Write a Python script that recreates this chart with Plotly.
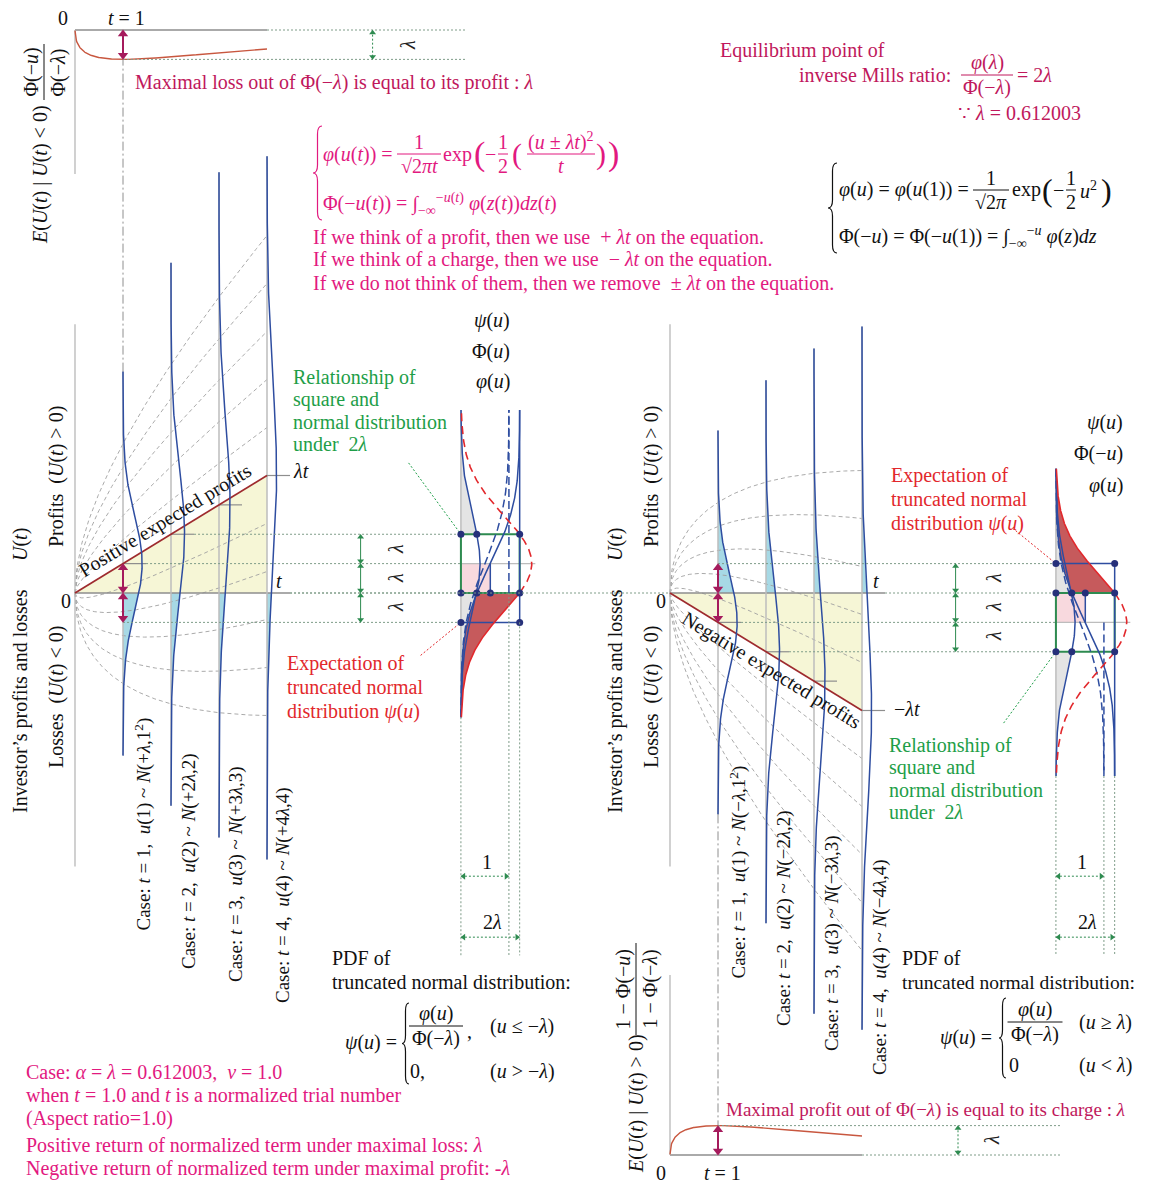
import math
import numpy as np
import plotly.graph_objects as go

# ============================ data ============================
LAM = 0.612003                      # equilibrium point: phi(lam)/Phi(-lam) = 2*lam
CASE_T = [1, 2, 3, 4]               # normalized trial numbers shown as distributions
BAND_K = [-2.5, -2.0, -1.5, -1.0, -0.5, 0.5, 1.0, 1.5, 2.0, 2.5]   # drift +/- k*sqrt(t) guide curves
CASE_TEXT_POS = [
    "Case: <i>t</i> = 1,  <i>u</i>(1) ~ <i>N</i>(+<i>λ</i>,1<sup>2</sup>)",
    "Case: <i>t</i> = 2,  <i>u</i>(2) ~ <i>N</i>(+2<i>λ</i>,2)",
    "Case: <i>t</i> = 3,  <i>u</i>(3) ~ <i>N</i>(+3<i>λ</i>,3)",
    "Case: <i>t</i> = 4,  <i>u</i>(4) ~ <i>N</i>(+4<i>λ</i>,4)",
]
CASE_TEXT_NEG = [
    "Case: <i>t</i> = 1,  <i>u</i>(1) ~ <i>N</i>(−<i>λ</i>,1<sup>2</sup>)",
    "Case: <i>t</i> = 2,  <i>u</i>(2) ~ <i>N</i>(−2<i>λ</i>,2)",
    "Case: <i>t</i> = 3,  <i>u</i>(3) ~ <i>N</i>(−3<i>λ</i>,3)",
    "Case: <i>t</i> = 4,  <i>u</i>(4) ~ <i>N</i>(−4<i>λ</i>,4)",
]
MINI_LABELS_POS = ["<i>ψ</i>(<i>u</i>)", "Φ(<i>u</i>)", "<i>φ</i>(<i>u</i>)"]
MINI_LABELS_NEG = ["<i>ψ</i>(<i>u</i>)", "Φ(−<i>u</i>)", "<i>φ</i>(<i>u</i>)"]

# ============================ layout constants ============================
W, H = 1150, 1183                  # window size (reference pixel frame)
OFF = 8                            # page body margin: figure starts at (8, 8)
FW, FH = W - OFF, H - OFF          # figure size
PX = 48.0                          # pixels per unit (aspect ratio 1)
ORIGINS = {"L": (75, 593), "R": (670, 593), "T": (75, 30), "B": (670, 1155)}
AXES = {"L": ("x", "y"), "R": ("x2", "y2"), "T": ("x3", "y3"), "B": ("x4", "y4")}
T_MINI = 8.04          # baseline of the small psi/Phi/phi panel (in t units)
PDF_K = 1.0
U_CLIP = 9.1
AX_END = 4.48
TICK = 0.48
MINI_U = 3.2
DIM_T = 5.95
DIM_ONE_U, DIM_TWO_U, DOT_END_U = -5.9, -7.17, -7.55
PANEL_GAP = 11.72

SERIF = "Liberation Serif, Times New Roman, serif"
BLUE = "#2E4DA0"
NAVY = "#26307A"
AXGRAY = "#8E8E8E"
BASEGRAY = "#BDBDBD"
DASHGRAY = "#A0A0A0"
DOTTED = "#7E9C88"
YELLOW = "#F6F6D6"
LIGHTBLUE = "#A7D9E5"
LIGHTGRAY = "#E4E4E4"
PINK = "#F8D9DE"
REDFILL = "#C65A5C"
RED = "#E2282C"
BROWN = "#9E2B2E"
GREEN = "#2E8B50"
GREEN_TXT = "#1E9E48"
CRIMSON = "#A51B5C"
CRIMSON_TXT = "#C0185C"
MAGENTA = "#E2197F"
CURVE = "#C8573F"
INK = "#111111"
NONE = "rgba(0,0,0,0)"
FS = 20                            # main text size

SQ2PI = math.sqrt(2 * math.pi)
_erf = np.vectorize(math.erf)


def npdf(x, mu=0.0, sd=1.0):
    x = np.asarray(x, float)
    return np.exp(-0.5 * ((x - mu) / sd) ** 2) / (sd * SQ2PI)


def ncdf(x):
    return 0.5 * (1 + _erf(np.asarray(x, float) / math.sqrt(2)))


PHI_NL = float(ncdf(-LAM))      # Phi(-lambda)
PHI_L = float(npdf(LAM))        # phi(lambda)

traces, ann, shapes = [], [], []


def fx(px):
    return (px - OFF) / FW


def fy(py):
    return 1 - (py - OFF) / FH


def L(key, x, y, color=NONE, width=1.0, dash=None, fill=None):
    xa, ya = AXES[key]
    kw = {}
    if fill is not None:
        kw = dict(fill="toself", fillcolor=fill)
    traces.append(go.Scatter(x=list(np.asarray(x, float)), y=list(np.asarray(y, float)),
                             xaxis=xa, yaxis=ya, mode="lines",
                             line=dict(color=color, width=width, dash=dash),
                             hoverinfo="skip", showlegend=False, **kw))


def M(key, x, y, color, size, symbol="circle"):
    xa, ya = AXES[key]
    traces.append(go.Scatter(x=list(x), y=list(y), xaxis=xa, yaxis=ya, mode="markers",
                             marker=dict(color=color, size=size, symbol=symbol, line=dict(width=0)),
                             hoverinfo="skip", showlegend=False))


def varrow(key, x, a, b, color, width=2.0, size=9, dash=None):
    lo, hi = min(a, b), max(a, b)
    d = size * 0.45 / PX
    L(key, [x, x], [lo + d, hi - d], color, width, dash)
    M(key, [x], [hi - d], color, size, "triangle-up")
    M(key, [x], [lo + d], color, size, "triangle-down")


def harrow(key, y, a, b, color, width=1.0, size=6, dash=None):
    d = size * 0.45 / PX
    L(key, [a, b], [y, y], color, width, dash)
    M(key, [a + d], [y], color, size, "triangle-left")
    M(key, [b - d], [y], color, size, "triangle-right")


def txt(px, py, text, size=FS, color=INK, xanchor="left", yanchor="middle", angle=0):
    ann.append(dict(x=fx(px), y=fy(py), xref="paper", yref="paper", text=text,
                    showarrow=False, xanchor=xanchor, yanchor=yanchor, textangle=angle,
                    borderpad=0, font=dict(size=size, color=color, family=SERIF)))


def pline(x0, y0, x1, y1, color, width=1.0):
    shapes.append(dict(type="line", xref="paper", yref="paper", x0=fx(x0), y0=fy(y0),
                       x1=fx(x1), y1=fy(y1), line=dict(color=color, width=width)))


def brace(x0, yt, yb, color, w=9, width=1.2):
    ym, xm = (yt + yb) / 2, x0 + w / 2
    d = min(8, (yb - yt) / 6)
    P = lambda X, Y: f"{fx(X):.5f},{fy(Y):.5f}"
    path = (f"M{P(x0 + w, yt)} Q{P(xm, yt)} {P(xm, yt + d)} L{P(xm, ym - d)} "
            f"Q{P(xm, ym)} {P(x0, ym)} Q{P(xm, ym)} {P(xm, ym + d)} "
            f"L{P(xm, yb - d)} Q{P(xm, yb)} {P(x0 + w, yb)}")
    shapes.append(dict(type="path", xref="paper", yref="paper", path=path,
                       line=dict(color=color, width=width)))


def frac(cx, cy, num, den, w, color, size=FS):
    txt(cx, cy - 0.62 * size, num, size, color, "center", "middle")
    txt(cx, cy + 0.62 * size, den, size, color, "center", "middle")
    pline(cx - w / 2, cy, cx + w / 2, cy, color, 1)


def rfrac(cx, cy, num, den, h, color, size=FS):
    txt(cx - 1, cy, num, size, color, "right", "middle", -90)
    txt(cx + 1, cy, den, size, color, "left", "middle", -90)
    pline(cx, cy - h / 2, cx, cy + h / 2, color, 1)


# ============================ main panels ============================
def draw_main(key, s, dash_from):
    tt = np.linspace(0, 4, 241)
    # expected-profit triangle
    L(key, [0, 4, 4, 0], [0, s * 4 * LAM, 0, 0], fill=YELLOW)
    # tail areas of each case distribution beyond zero
    for t in CASE_T:
        mu, sd = s * LAM * t, math.sqrt(t)
        lo, hi = max(mu - 4 * sd, -U_CLIP), min(mu + 4 * sd, U_CLIP)
        tail = np.linspace(lo, 0, 160) if s > 0 else np.linspace(0, hi, 160)
        xs = t + PDF_K * npdf(tail, mu, sd)
        L(key, np.r_[xs, t, t], np.r_[tail, tail[-1], tail[0]], fill=LIGHTBLUE)
    # dashed drift +/- k sqrt(t) curves
    for k in BAND_K:
        L(key, tt, s * (LAM * tt + k * np.sqrt(tt)), DASHGRAY, 0.9, "4px,3px")
    # axes
    L(key, [0, AX_END], [0, 0], AXGRAY, 1.4)
    L(key, [0, 0], [-5.7, 5.6], BASEGRAY, 1.4)
    for t in CASE_T:
        mu, sd = s * LAM * t, math.sqrt(t)
        lo, hi = max(mu - 4 * sd, -U_CLIP), min(mu + 4 * sd, U_CLIP)
        L(key, [t, t], [lo, hi], BASEGRAY, 1.5)
        L(key, [t, t + TICK], [mu, mu], AXGRAY, 1.2)
    L(key, [0, 4], [0, s * 4 * LAM], BROWN, 1.7)
    for t in CASE_T:
        mu, sd = s * LAM * t, math.sqrt(t)
        lo, hi = max(mu - 4 * sd, -U_CLIP), min(mu + 4 * sd, U_CLIP)
        u = np.linspace(lo, hi, 400)
        L(key, t + PDF_K * npdf(u, mu, sd), u, BLUE, 1.5)
    # dotted guide levels
    for t in (1, 2):
        L(key, [t + TICK, T_MINI], [s * LAM * t] * 2, DOTTED, 1, "2px,2px")
    L(key, [1, T_MINI], [-s * LAM] * 2, DOTTED, 1, "2px,2px")
    L(key, [AX_END, T_MINI], [0, 0], DOTTED, 1, "2px,2px")
    # connector to the small expectation panel
    L(key, [1, 1], [s * (LAM + 4), s * (PANEL_GAP - LAM)], AXGRAY, 1, "9px,3px,2px,3px")
    # crimson arrows at t = 1
    varrow(key, 1, 0, s * LAM, CRIMSON, 2, 9)
    varrow(key, 1, 0, -s * LAM, CRIMSON, 2, 9)
    # lambda dimension ladder
    lv = sorted([-s * LAM, 0, s * LAM, s * 2 * LAM])
    for a, b in zip(lv[:-1], lv[1:]):
        varrow(key, DIM_T, a, b, GREEN, 1, 6)
    # leaders
    L(key, [6.95, T_MINI], [s * 2.71, s * 2 * LAM], GREEN_TXT, 1, "2px,2px")
    L(key, [7.2, T_MINI], [-s * 1.3, -s * LAM], RED, 1, "2px,2px")

    # ---------------- small psi / Phi / phi panel ----------------
    u = np.linspace(-MINI_U, MINI_U, 401)
    UU = lambda v: s * (np.asarray(v, float) + LAM)
    phi, Phi = npdf(u), ncdf(u)
    for mask in (u >= LAM, u <= -LAM):
        uu = u[mask]
        L(key, np.r_[T_MINI + npdf(uu), T_MINI, T_MINI],
          np.r_[UU(uu), UU(uu[-1]), UU(uu[0])], fill=LIGHTGRAY)
    L(key, [T_MINI, T_MINI + LAM, T_MINI + LAM, T_MINI, T_MINI],
      [0, 0, s * LAM, s * LAM, 0], fill=PINK)
    uu = u[u <= -LAM]
    left, right = T_MINI + 2 * LAM * ncdf(uu), T_MINI + npdf(uu) / PHI_NL
    L(key, np.r_[right, left[::-1]], np.r_[UU(uu), UU(uu[::-1])], fill=REDFILL)
    L(key, [T_MINI, T_MINI], [UU(-MINI_U), UU(MINI_U)], BASEGRAY, 1.5)
    L(key, [T_MINI, T_MINI + 1.55], [s * LAM] * 2, BASEGRAY, 1.4)
    L(key, [T_MINI, T_MINI + 2 * LAM, T_MINI + 2 * LAM, T_MINI, T_MINI],
      [0, 0, s * 2 * LAM, s * 2 * LAM, 0], GREEN, 2)
    L(key, [T_MINI + 2 * LAM] * 2, [-s * LAM, UU(MINI_U)], BLUE, 1.5)
    L(key, [T_MINI + 1] * 2, [dash_from, UU(MINI_U)], BLUE, 1.5, "8px,4px")
    L(key, [T_MINI, T_MINI + 2 * LAM], [-s * LAM] * 2, BLUE, 1.5)
    L(key, [T_MINI + LAM] * 2, [0, s * LAM], BLUE, 1.5)
    L(key, T_MINI + phi, UU(u), BLUE, 1.5)
    L(key, T_MINI + 2 * LAM * Phi, UU(u), BLUE, 1.5)
    L(key, T_MINI + Phi, UU(u), BLUE, 1.5, "8px,4px")
    m1, m2 = u <= -LAM, u >= -LAM
    L(key, T_MINI + phi[m1] / PHI_NL, UU(u[m1]), RED, 1.6)
    L(key, T_MINI + phi[m2] / PHI_NL, UU(u[m2]), RED, 1.6, "8px,5px")
    M(key, [T_MINI, T_MINI + PHI_L, T_MINI + 2 * LAM,
            T_MINI, T_MINI + PHI_L, T_MINI + LAM, T_MINI + 2 * LAM,
            T_MINI, T_MINI + 2 * LAM],
      [s * 2 * LAM] * 3 + [0] * 4 + [-s * LAM] * 2, NAVY, 7)
    # dotted drop lines and width dimensions
    low = min(float(UU(-MINI_U)), float(UU(MINI_U)))
    L(key, [T_MINI] * 2, [low, DOT_END_U], DOTTED, 1, "2px,2px")
    L(key, [T_MINI + 1] * 2, [low if s < 0 else dash_from, DOT_END_U], DOTTED, 1, "2px,2px")
    L(key, [T_MINI + 2 * LAM] * 2, [low if s < 0 else -s * LAM, DOT_END_U], DOTTED, 1, "2px,2px")
    harrow(key, DIM_ONE_U, T_MINI, T_MINI + 1.0, GREEN, 1, 6, "2px,2px")
    harrow(key, DIM_TWO_U, T_MINI, T_MINI + 2 * LAM, GREEN, 1, 6, "2px,2px")


def draw_small(key, s, vlen, dot_end, dim_t):
    tt = np.linspace(1e-4, 4, 400)
    a = LAM * np.sqrt(tt)
    f = (LAM * tt * ncdf(-a) - np.sqrt(tt) * npdf(a)) / PHI_NL   # partial expectation / Phi(-lam)
    L(key, [0, 4], [0, 0], AXGRAY, 1.4)
    L(key, [0, 0], [0, -s * vlen], BASEGRAY, 1.4)
    L(key, tt, s * f, CURVE, 1.4)
    L(key, [4, dot_end], [0, 0], DOTTED, 1, "2px,2px")
    L(key, [1, dot_end], [-s * LAM] * 2, DOTTED, 1, "2px,2px")
    varrow(key, dim_t, 0, -s * LAM, GREEN, 1, 6, "2px,2px")
    varrow(key, 1, 0, -s * LAM, CRIMSON, 2, 9)


draw_main("L", +1, 0.0)
draw_main("R", -1, -LAM)
draw_small("T", +1, 3.0, 8.15, 6.2)
draw_small("B", -1, 3.75, 8.15, 6.0)
# zero level crossing between the two main panels
L("L", [AX_END, (ORIGINS["R"][0] - ORIGINS["L"][0]) / PX], [0, 0], DOTTED, 1, "2px,2px")

# ============================ texts ============================
LAMG = "<i>λ</i>"
# dimension labels (rotated lambda)
for py in (549, 578, 607):
    txt(396, py, LAMG, FS, "#222", "center", "middle", -90)
for py in (578, 607, 636):
    txt(994, py, LAMG, FS, "#222", "center", "middle", -90)
txt(408, 45, LAMG, FS, "#222", "center", "middle", -90)
txt(992, 1140, LAMG, FS, "#222", "center", "middle", -90)

# --- top-left expectation panel
txt(63, 18, "0", FS, INK, "center")
txt(126, 18, "<i>t</i> = 1", FS, INK, "center")
txt(41, 175, "<i>E</i>(<i>U</i>(<i>t</i>) | <i>U</i>(<i>t</i>) < 0)", FS, INK, "center", "middle", -90)
rfrac(44, 72, "Φ(−<i>u</i>)", "Φ(−<i>λ</i>)", 56, INK, FS)
txt(134, 83, "Maximal loss out of Φ(−<i>λ</i>) is equal to its profit : <i>λ</i>", FS, CRIMSON_TXT)

# --- magenta equation block
brace(313, 126, 220, MAGENTA)
txt(322, 154, "<i>φ</i>(<i>u</i>(<i>t</i>)) =", FS, MAGENTA)
frac(419, 154, "1", "√2<i>πt</i>", 44, MAGENTA, FS)
txt(442, 154, "exp", FS, MAGENTA)
txt(479, 154, "(", 34, MAGENTA, "center")
txt(490, 154, "−", FS, MAGENTA, "center")
frac(503, 154, "1", "2", 10, MAGENTA, FS)
txt(517, 154, "(", 30, MAGENTA, "center")
frac(561, 154, "(<i>u</i> ± <i>λt</i>)<sup>2</sup>", "<i>t</i>", 68, MAGENTA, FS)
txt(601, 154, ")", 30, MAGENTA, "center")
txt(613, 154, ")", 34, MAGENTA, "center")
txt(322, 204, "Φ(−<i>u</i>(<i>t</i>)) = ∫<sub>−∞</sub><sup>−<i>u</i>(<i>t</i>)</sup> <i>φ</i>(<i>z</i>(<i>t</i>))<i>dz</i>(<i>t</i>)", FS, MAGENTA)
txt(312, 237, "If we think of a profit, then we use  + <i>λt</i> on the equation.", FS, MAGENTA)
txt(312, 260, "If we think of a charge, then we use  − <i>λt</i> on the equation.", FS, MAGENTA)
txt(312, 284, "If we do not think of them, then we remove  ± <i>λt</i> on the equation.", FS, MAGENTA)

# --- equilibrium
txt(719, 50, "Equilibrium point of", FS, CRIMSON_TXT)
txt(798, 75, "inverse Mills ratio:", FS, CRIMSON_TXT)
frac(987, 75, "<i>φ</i>(<i>λ</i>)", "Φ(−<i>λ</i>)", 52, CRIMSON_TXT, FS)
txt(1016, 75, "= 2<i>λ</i>", FS, CRIMSON_TXT)
txt(957, 113, "∵ <i>λ</i> = 0.612003", FS, CRIMSON_TXT)

# --- black equation block
brace(828, 163, 253, INK)
txt(838, 190, "<i>φ</i>(<i>u</i>) = <i>φ</i>(<i>u</i>(1)) =", FS, INK)
frac(991, 190, "1", "√2<i>π</i>", 36, INK, FS)
txt(1011, 190, "exp", FS, INK)
txt(1047, 190, "(", 32, INK, "center")
txt(1058, 190, "−", FS, INK, "center")
frac(1071, 190, "1", "2", 10, INK, FS)
txt(1079, 190, "<i>u</i><sup>2</sup>", FS, INK)
txt(1106, 190, ")", 32, INK, "center")
txt(838, 237, "Φ(−<i>u</i>) = Φ(−<i>u</i>(1)) = ∫<sub>−∞</sub><sup>−<i>u</i></sup> <i>φ</i>(<i>z</i>)<i>dz</i>", FS, INK)

# --- main axis labels (both panels)
for ox in (0, 595):
    txt(20 + ox, 701, "Investor’s profits and losses", FS, INK, "center", "middle", -90)
    txt(20 + ox, 545, "<i>U</i>(<i>t</i>)", FS, INK, "center", "middle", -90)
    txt(56 + ox, 477, "Profits  (<i>U</i>(<i>t</i>) > 0)", FS, INK, "center", "middle", -90)
    txt(56 + ox, 697, "Losses  (<i>U</i>(<i>t</i>) < 0)", FS, INK, "center", "middle", -90)
    txt(66 + ox, 601, "0", FS, INK, "center")
txt(279, 581, "<i>t</i>", FS, INK, "center")
txt(876, 581, "<i>t</i>", FS, INK, "center")
txt(292, 471, "<i>λt</i>", FS, INK)
txt(893, 709, "−<i>λt</i>", FS, INK)
ang = math.degrees(math.atan(LAM))
txt(165, 520, "Positive expected profits", FS, INK, "center", "middle", -ang)
txt(772, 670, "Negative expected profits", FS, INK, "center", "middle", ang)

# --- mini panel labels
for i, lab in enumerate(MINI_LABELS_POS):
    txt(511, 320 + 31 * i, lab, FS, INK, "right")
for i, lab in enumerate(MINI_LABELS_NEG):
    txt(1124, 423 + 31 * i, lab, FS, INK, "right")
for i, line_ in enumerate(["Relationship of", "square and", "normal distribution", "under  2<i>λ</i>"]):
    txt(292, 377 + 22.3 * i, line_, FS, GREEN_TXT)
    txt(888, 745 + 22.3 * i, line_, FS, GREEN_TXT)
for i, line_ in enumerate(["Expectation of", "truncated normal", "distribution <i>ψ</i>(<i>u</i>)"]):
    txt(286, 663 + 24 * i, line_, FS, RED)
    txt(890, 475 + 24 * i, line_, FS, RED)
for ox in (0, 595):
    txt(487 + ox, 862, "1", FS, INK, "center")
    txt(492 + ox, 922, "2<i>λ</i>", FS, INK, "center")

# --- case labels
for lab, x, yb in zip(CASE_TEXT_POS, [143, 189, 236, 283], [932, 970, 983, 1004]):
    txt(x, yb, lab, 19, INK, "center", "bottom", -90)
for lab, x, yb in zip(CASE_TEXT_NEG, [738, 784, 832, 880], [980, 1027, 1052, 1076]):
    txt(x, yb, lab, 19, INK, "center", "bottom", -90)

# --- PDF boxes
txt(331, 958, "PDF of", FS, INK)
txt(331, 982, "truncated normal distribution:", FS, INK)
txt(398, 1042, "<i>ψ</i>(<i>u</i>) =", FS, INK, "right")
brace(402, 1003, 1084, INK, 7)
frac(436, 1026, "<i>φ</i>(<i>u</i>)", "Φ(−<i>λ</i>)", 54, INK, FS)
txt(466, 1031, ",", FS, INK)
txt(489, 1026, "(<i>u</i> ≤ −<i>λ</i>)", FS, INK)
txt(409, 1071, "0,", FS, INK)
txt(489, 1071, "(<i>u</i> > −<i>λ</i>)", FS, INK)

txt(901, 958, "PDF of", FS, INK)
txt(901, 982, "truncated normal distribution:", 19.5, INK)
txt(993, 1037, "<i>ψ</i>(<i>u</i>) =", FS, INK, "right")
brace(999, 998, 1078, INK, 7)
frac(1035, 1022, "<i>φ</i>(<i>u</i>)", "Φ(−<i>λ</i>)", 55, INK, FS)
txt(1078, 1022, "(<i>u</i> ≥ <i>λ</i>)", FS, INK)
txt(1008, 1065, "0", FS, INK)
txt(1078, 1065, "(<i>u</i> < <i>λ</i>)", FS, INK)

# --- bottom-right expectation panel
txt(725, 1110, "Maximal profit out of Φ(−<i>λ</i>) is equal to its charge : <i>λ</i>", 19, CRIMSON_TXT)
txt(661, 1173, "0", FS, INK, "center")
txt(722, 1173, "<i>t</i> = 1", FS, INK, "center")
txt(636, 1104, "<i>E</i>(<i>U</i>(<i>t</i>) | <i>U</i>(<i>t</i>) > 0)", FS, INK, "center", "middle", -90)
rfrac(636, 989, "1 − Φ(−<i>u</i>)", "1 − Φ(−<i>λ</i>)", 92, INK, FS)

# --- bottom-left notes
for i, line_ in enumerate([
        "Case: <i>α</i> = <i>λ</i> = 0.612003,  <i>ν</i> = 1.0",
        "when <i>t</i> = 1.0 and <i>t</i> is a normalized trial number",
        "(Aspect ratio=1.0)"]):
    txt(25, 1072 + 23 * i, line_, FS, MAGENTA)
txt(25, 1145, "Positive return of normalized term under maximal loss: <i>λ</i>", FS, MAGENTA)
txt(25, 1168, "Negative return of normalized term under maximal profit: -<i>λ</i>", FS, MAGENTA)

# ============================ figure ============================
fig = go.Figure(data=traces)
layout = dict(width=FW, height=FH, margin=dict(l=0, r=0, t=0, b=0), autosize=False,
              paper_bgcolor="white", plot_bgcolor="rgba(0,0,0,0)", showlegend=False,
              annotations=ann, shapes=shapes)
for i, key in enumerate("LRTB"):
    ox, oy = ORIGINS[key]
    ox, oy = ox - OFF, oy - OFF
    sfx = "" if i == 0 else str(i + 1)
    layout["xaxis" + sfx] = dict(domain=[0, 1], range=[-ox / PX, (FW - ox) / PX], visible=False,
                                 fixedrange=True, anchor="y" + sfx)
    layout["yaxis" + sfx] = dict(domain=[0, 1], range=[-(FH - oy) / PX, oy / PX], visible=False,
                                 fixedrange=True, anchor="x" + sfx)
fig.update_layout(**layout)
fig.write_html("out.html", config={"displayModeBar": False, "staticPlot": True})
